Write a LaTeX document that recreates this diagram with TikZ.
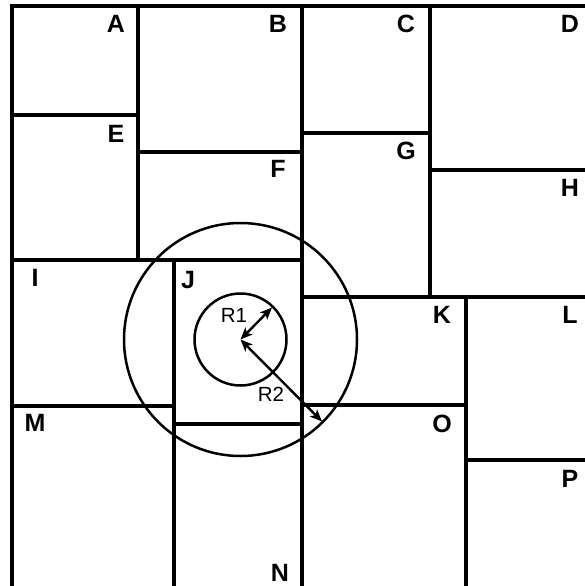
\documentclass[tikz,border=0pt]{standalone}
\usepackage{fontspec}
\setmainfont{Liberation Sans}
\usetikzlibrary{arrows.meta}
\tikzset{
  wall/.style={line width=4pt, line cap=rect},
  ring/.style={line width=2.5pt},
  radius arrow/.style={line width=2.4pt, {Stealth[length=12pt,width=10pt,inset=3pt]}-{Stealth[length=12pt,width=10pt,inset=3pt]}},
  letter/.style={font=\fontsize{25}{25}\selectfont\bfseries, inner sep=0pt, anchor=center},
  rlabel/.style={font=\fontsize{20.5}{20.5}\selectfont, inner sep=0pt, anchor=center}
}
\begin{document}
\begin{tikzpicture}[x=1pt,y=-1pt]
\useasboundingbox (0,0) rectangle (585,586);
% walls
\draw[wall] (585,6.5) -- (12,6.5) -- (12,590);
\draw[wall] (138,6.5) -- (138,260);
\draw[wall] (12,115) -- (138,115);
\draw[wall] (138,152) -- (302,152);
\draw[wall] (12,260) -- (302,260);
\draw[wall] (302,6.5) -- (302,590);
\draw[wall] (302,133) -- (430,133);
\draw[wall] (430,6.5) -- (430,297);
\draw[wall] (430,170) -- (590,170);
\draw[wall] (302,297) -- (590,297);
\draw[wall] (174,260) -- (174,590);
\draw[wall] (12,406) -- (174,406);
\draw[wall] (174,424) -- (302,424);
\draw[wall] (466,297) -- (466,590);
\draw[wall] (302,405) -- (466,405);
\draw[wall] (466,460) -- (590,460);
% circles
\coordinate (ctr) at (240.5,339.5);
\draw[ring] (ctr) circle[radius=46];
\draw[ring] (ctr) circle[radius=116.5];
\coordinate (r1end) at (272,307.5);
\coordinate (r2end) at (322,421.5);
\draw[radius arrow] (ctr) -- (r1end);
\draw[radius arrow] (ctr) -- (r2end);
\node[rlabel] (R1) at (234,315.5) {R1};
\node[rlabel] (R2) at (271,394.5) {R2};
% letters
\node[letter] (A) at (116,24) {A};
\node[letter] (B) at (278,24) {B};
\node[letter] (C) at (406,24) {C};
\node[letter] (D) at (570,24) {D};
\node[letter] (E) at (116,134) {E};
\node[letter] (F) at (278,169) {F};
\node[letter] (G) at (406,151) {G};
\node[letter] (H) at (570,188) {H};
\node[letter] (I) at (35,278) {I};
\node[letter] (J) at (188,280) {J};
\node[letter] (K) at (442,315) {K};
\node[letter] (L) at (570,315) {L};
\node[letter] (M) at (35,423) {M};
\node[letter] (N) at (280,573) {N};
\node[letter] (O) at (442,424) {O};
\node[letter] (P) at (570,479) {P};
\end{tikzpicture}
\end{document}
